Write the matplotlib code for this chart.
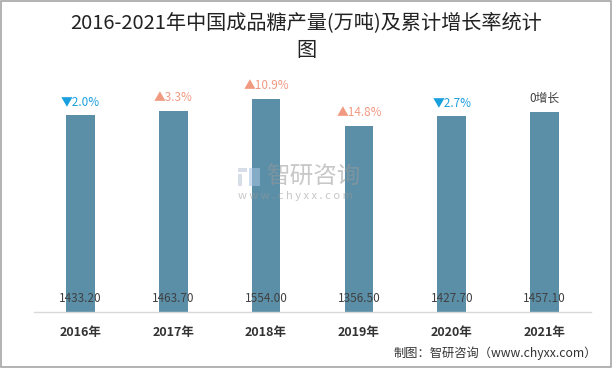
import matplotlib.pyplot as plt
from matplotlib.patches import Rectangle

plt.rcParams["font.family"] = ["Noto Sans CJK SC", "DejaVu Sans"]

years = ["2016年", "2017年", "2018年", "2019年", "2020年", "2021年"]
output = [1433.20, 1463.70, 1554.00, 1356.50, 1427.70, 1457.10]
growth = ["▼2.0%", "▲3.3%", "▲10.9%", "▲14.8%", "▼2.7%", "0增长"]
growth_dir = ["down", "up", "up", "up", "down", "flat"]

dir_colors = {"down": "#1a9fde", "up": "#f19a82", "flat": "#404040"}
bar_color = "#5b8fa8"

fig = plt.figure(figsize=(6.13, 3.68), dpi=100)
ax = fig.add_axes([34 / 613, 1 - 312 / 368, 557 / 613, 252 / 368])

x = list(range(len(years)))
ax.bar(x, output, width=0.31, color=bar_color, zorder=2)

ax.set_xlim(-0.5, len(years) - 0.5)
ax.set_ylim(0, 1837)

for i, v in enumerate(output):
    ax.text(i, 102, f"{v:.2f}", ha="center", va="center", fontsize=8.5,
            color="#404040", zorder=3)
    ax.annotate(growth[i], (i, v), xytext=(0, 5), textcoords="offset points",
                ha="center", va="bottom", fontsize=8.5,
                color=dir_colors[growth_dir[i]])

ax.set_xticks(x)
ax.set_xticklabels(years, fontsize=9, fontweight="bold", color="#333333")
ax.tick_params(axis="x", length=0, pad=10)
ax.set_yticks([])
for s in ["top", "right", "left"]:
    ax.spines[s].set_visible(False)
ax.spines["bottom"].set_color("#d9d9d9")
ax.spines["bottom"].set_linewidth(1.0)

# watermark: small logo blocks + text
for (lx, ly, lw, lh, c) in [(238, 168, 9, 4, "#b8c4d6"), (238, 174, 4, 12, "#b8c4d6"),
                            (249, 168, 11, 18, "#a9c4e0")]:
    fig.patches.append(Rectangle((lx / 613, 1 - (ly + lh) / 368), lw / 613, lh / 368,
                                 transform=fig.transFigure, color=c, alpha=0.55,
                                 linewidth=0))
fig.text(266 / 613, 1 - 177 / 368, "智研咨询", fontsize=17, color="#999999",
         alpha=0.55, ha="left", va="center")
fig.text(238 / 613, 1 - 196 / 368, "w w w . c h y x x . c o m", fontsize=8,
         color="#999999", alpha=0.55, ha="left", va="center")

fig.text(0.5, 1 - 23 / 368, "2016-2021年中国成品糖产量(万吨)及累计增长率统计",
         ha="center", va="center", fontsize=14.5, color="#222222")
fig.text(0.5, 1 - 50 / 368, "图", ha="center", va="center", fontsize=14.5,
         color="#222222")

fig.text(597 / 613, 1 - 353 / 368, "制图：智研咨询（www.chyxx.com）",
         ha="right", va="center", fontsize=8.8, color="#333333")

fig.patches.append(Rectangle((0.002, 0.003), 0.995, 0.994, transform=fig.transFigure,
                             fill=False, edgecolor="#a6a6a6", linewidth=1.2))

fig.savefig("out.png", dpi=100, facecolor="white")
